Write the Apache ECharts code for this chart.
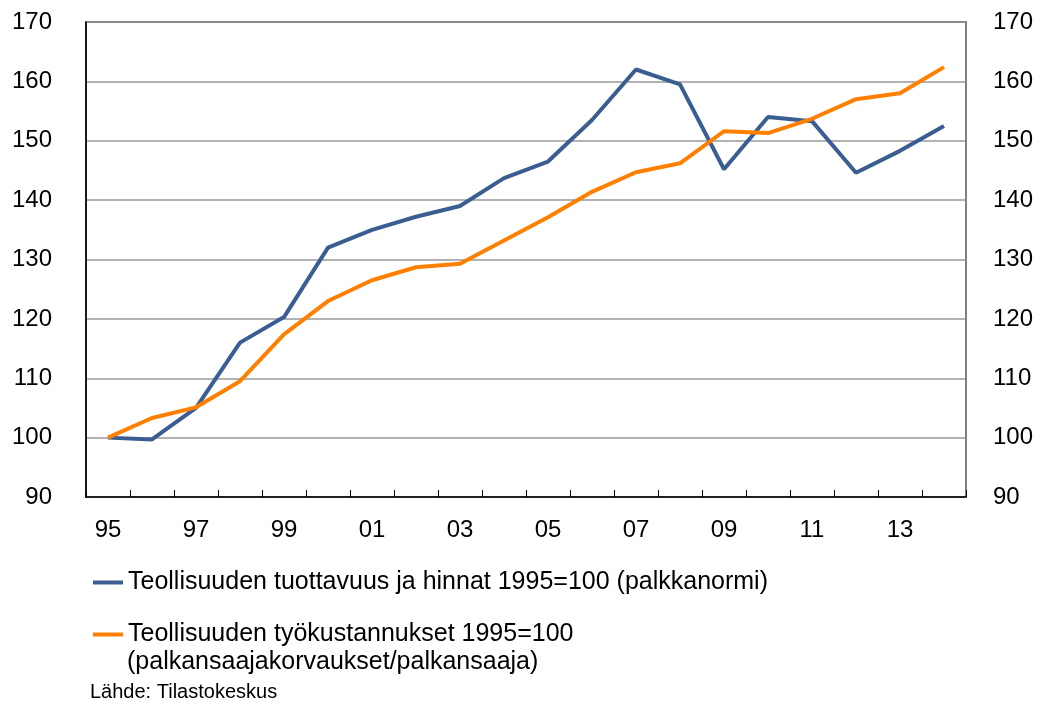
<!DOCTYPE html>
<html>
<head>
<meta charset="utf-8">
<script src="https://cdn.jsdelivr.net/npm/echarts@6/dist/echarts.min.js"></script>
<style>
  html, body { margin: 0; padding: 0; background: #fff; }
  #chart { width: 1041px; height: 704px; }
</style>
</head>
<body>
<div id="chart"></div>
<script>
    // vuodet 1995-2014
    var years = ['95', '96', '97', '98', '99', '00', '01', '02', '03', '04',
                 '05', '06', '07', '08', '09', '10', '11', '12', '13', '14'];
    var tuottavuus = [100, 99.7, 105, 116, 120.3, 132, 135, 137.2, 139, 143.7,
                      146.5, 153.5, 162, 159.5, 145.2, 154, 153.3, 144.6, 148.3, 152.5];
    var tyokustannukset = [100, 103.3, 105.1, 109.5, 117.4, 123, 126.5, 128.7, 129.3, 133.2,
                           137.1, 141.4, 144.7, 146.2, 151.6, 151.3, 153.7, 157, 158, 162.4];
    var name1 = 'Teollisuuden tuottavuus ja hinnat 1995=100 (palkkanormi)';
    var name2 = 'Teollisuuden työkustannukset 1995=100';
    var name2b = '(palkansaajakorvaukset/palkansaaja)';
    var lahde = 'Lähde: Tilastokeskus';

    var font = 'Liberation Sans, Arial, sans-serif';
    var myChart = echarts.init(document.getElementById('chart'));

    var option = {
        animation: false,
        textStyle: { fontFamily: font },
        grid: {
            left: 86, right: 75, top: 22, bottom: 207,
            show: true,
            borderColor: '#333',
            borderWidth: 1.5
        },
        legend: [
            {
                data: [name1],
                left: 93, top: 570, padding: 0,
                icon: 'rect', itemWidth: 30, itemHeight: 4,
                textStyle: { fontSize: 25, color: '#000', fontFamily: font }
            },
            {
                data: [name2],
                left: 93, top: 622, padding: 0,
                icon: 'rect', itemWidth: 30, itemHeight: 4,
                textStyle: { fontSize: 25, color: '#000', fontFamily: font }
            }
        ],
        graphic: [
            {
                type: 'text', left: 127, top: 650,
                style: { text: name2b, fontSize: 25, fill: '#000', fontFamily: font }
            },
            {
                type: 'text', left: 90, top: 682,
                style: { text: lahde, fontSize: 20, fill: '#000', fontFamily: font }
            }
        ],
        xAxis: {
            type: 'category',
            data: years,
            boundaryGap: true,
            axisLine: { lineStyle: { color: '#000', width: 1.5 } },
            axisTick: { show: true, inside: true, length: 7, interval: 0, lineStyle: { color: '#000' } },
            axisLabel: { interval: 1, fontSize: 24, color: '#000', margin: 21 },
            splitLine: { show: false }
        },
        yAxis: [
            {
                type: 'value', min: 90, max: 170, interval: 10,
                axisLine: { show: true, lineStyle: { color: '#000', width: 1.5 } },
                axisTick: { show: false },
                axisLabel: { fontSize: 24, color: '#000', margin: 34 },
                splitLine: { lineStyle: { color: '#999', width: 1.5 } }
            },
            {
                type: 'value', min: 90, max: 170, interval: 10, position: 'right',
                axisLine: { show: true, lineStyle: { color: '#888', width: 1.5 } },
                axisTick: { show: false },
                axisLabel: { fontSize: 24, color: '#000', margin: 27 },
                splitLine: { show: false }
            }
        ],
        series: [
            {
                name: name1, type: 'line', data: tuottavuus,
                symbol: 'none',
                lineStyle: { color: '#3A5E92', width: 4 },
                itemStyle: { color: '#3A5E92' }
            },
            {
                name: name2, type: 'line', data: tyokustannukset,
                symbol: 'none',
                lineStyle: { color: '#FF8000', width: 4 },
                itemStyle: { color: '#FF8000' }
            }
        ]
    };
    myChart.setOption(option);
</script>
</body>
</html>
